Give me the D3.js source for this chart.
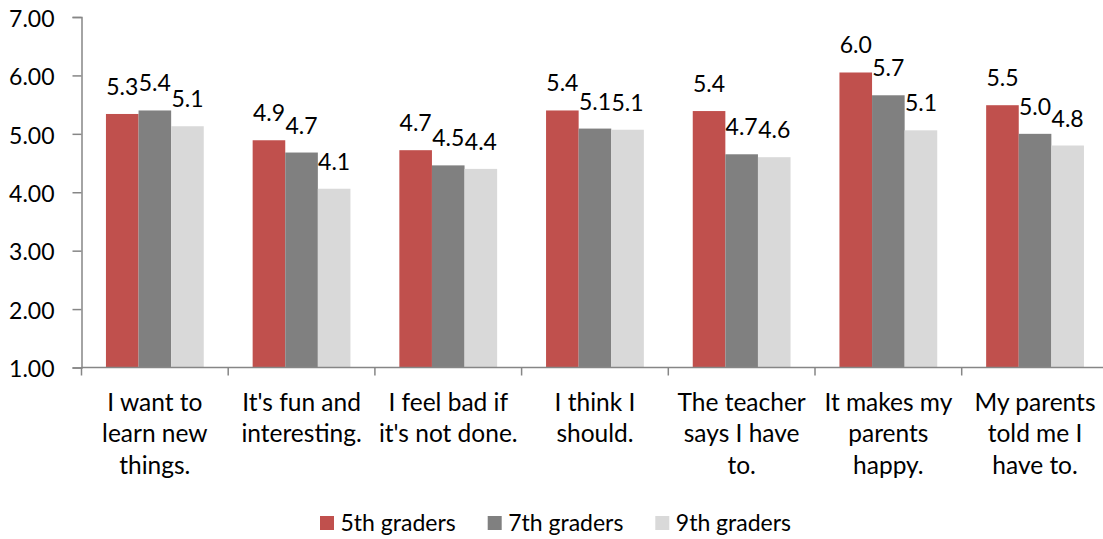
<!DOCTYPE html>
<html>
<head>
<meta charset="utf-8">
<script src="https://cdn.jsdelivr.net/npm/d3@7"></script>
<style>
  html, body { margin: 0; padding: 0; background: #fff; overflow: hidden; }
  svg { display: block; font-family: Lato, "Open Sans", sans-serif; }
</style>
</head>
<body>
<svg id="chart" width="1103" height="539"></svg>
<script>
const categories = [
  "I want to learn new things.",
  "It's fun and interesting.",
  "I feel bad if it's not done.",
  "I think I should.",
  "The teacher says I have to.",
  "It makes my parents happy.",
  "My parents told me I have to."
];
const categoryLines = [
  ["I want to", "learn new", "things."],
  ["It's fun and", "interesting."],
  ["I feel bad if", "it's not done."],
  ["I think I", "should."],
  ["The teacher", "says I have", "to."],
  ["It makes my", "parents", "happy."],
  ["My parents", "told me I", "have to."]
];
const seriesNames = ["5th graders", "7th graders", "9th graders"];
const grade5 = [5.34, 4.89, 4.72, 5.40, 5.39, 6.05, 5.49];
const grade7 = [5.40, 4.68, 4.46, 5.09, 4.65, 5.66, 5.00];
const grade9 = [5.13, 4.06, 4.40, 5.07, 4.60, 5.06, 4.80];
const yTicks = [1, 2, 3, 4, 5, 6, 7];

const seriesValues = [grade5, grade7, grade9];
const colors = ["#C0504D", "#808080", "#D9D9D9"];

const svg = d3.select("#chart");
const plotLeft = 81.5, plotTop = 17, plotBottom = 367.5;
const catW = 146.7;
const fontSize = 23;
const catFontSize = 24.5;

const x0 = d3.scaleBand().domain(categories).range([plotLeft, plotLeft + catW * categories.length]).paddingInner(0).paddingOuter(0);
const x1 = d3.scaleBand().domain(seriesNames).range([0, x0.bandwidth()]).paddingInner(0).paddingOuter(0.75);
const y = d3.scaleLinear().domain([1, 7]).range([plotBottom, plotTop]);

// bars
const groups = svg.append("g").selectAll("g")
  .data(categories)
  .join("g")
  .attr("transform", d => `translate(${x0(d)},0)`);

groups.selectAll("rect")
  .data((d, i) => seriesNames.map((s, j) => ({ s, j, v: seriesValues[j][i] })))
  .join("rect")
  .attr("x", d => x1(d.s))
  .attr("width", x1.bandwidth())
  .attr("y", d => y(d.v))
  .attr("height", d => y(1) - y(d.v))
  .attr("fill", d => colors[d.j]);

groups.selectAll("text")
  .data((d, i) => seriesNames.map((s, j) => ({ s, j, v: seriesValues[j][i] })))
  .join("text")
  .attr("x", d => x1(d.s) + x1.bandwidth() / 2)
  .attr("y", d => y(d.v) - 19)
  .attr("text-anchor", "middle")
  .attr("font-size", fontSize)
  .attr("fill", "#000")
  .text(d => d.v.toFixed(1));

// y axis
const yAxis = d3.axisLeft(y).tickValues(yTicks).tickFormat(d3.format(".2f")).tickSize(9).tickPadding(18);
const gy = svg.append("g").attr("transform", `translate(${plotLeft},0)`).call(yAxis);
gy.select(".domain").attr("stroke", "#868686").attr("stroke-width", 1.5);
gy.selectAll(".tick line").attr("stroke", "#868686").attr("stroke-width", 1.5);
gy.selectAll(".tick text").attr("font-size", fontSize).attr("font-family", "Lato, sans-serif").attr("fill", "#000").attr("dy", "0.4em");

// x axis
const gx = svg.append("g").attr("transform", `translate(0,${plotBottom})`);
gx.append("line").attr("x1", plotLeft).attr("x2", 1103).attr("y1", 0).attr("y2", 0)
  .attr("stroke", "#868686").attr("stroke-width", 1.5);
gx.selectAll("line.tick")
  .data(categories.slice(1))
  .join("line")
  .attr("class", "tick")
  .attr("x1", d => x0(d)).attr("x2", d => x0(d))
  .attr("y1", 0).attr("y2", 8)
  .attr("stroke", "#868686").attr("stroke-width", 1.5);
gx.append("line").attr("x1", plotLeft).attr("x2", plotLeft).attr("y1", 0).attr("y2", 8)
  .attr("stroke", "#868686").attr("stroke-width", 1.5);

const catLabels = gx.selectAll("text.cat")
  .data(categories)
  .join("text")
  .attr("class", "cat")
  .attr("text-anchor", "middle")
  .attr("font-size", catFontSize)
  .attr("fill", "#000");
catLabels.each(function(d, i) {
  const t = d3.select(this);
  categoryLines[i].forEach((line, k) => {
    t.append("tspan")
      .attr("x", x0(d) + x0.bandwidth() / 2)
      .attr("y", 43.2 + k * 31.7)
      .text(line);
  });
});

// legend
const legendX = [320, 487.7, 655.3];
const legend = svg.append("g");
seriesNames.forEach((s, j) => {
  legend.append("rect").attr("x", legendX[j]).attr("y", 516).attr("width", 14).attr("height", 14).attr("fill", colors[j]);
  legend.append("text").attr("x", legendX[j] + 20.5).attr("y", 530.5).attr("font-size", fontSize).attr("fill", "#000").text(s);
});
</script>
</body>
</html>
